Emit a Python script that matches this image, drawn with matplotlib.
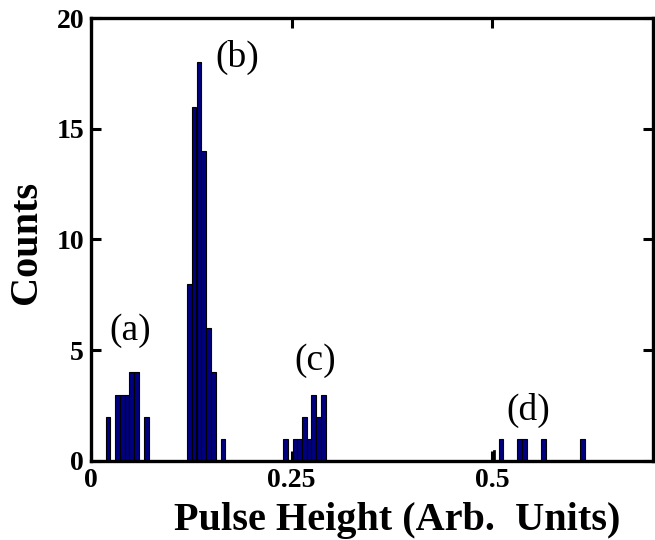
import matplotlib
matplotlib.use("Agg")
import matplotlib.pyplot as plt

# bin centers (Arb. units) and counts
centers_a = [0.0212, 0.0333, 0.0391, 0.0449, 0.0508, 0.0565, 0.0690]
counts_a = [2, 3, 3, 3, 4, 4, 2]
centers_b = [0.1224, 0.1283, 0.1345, 0.1406, 0.1464, 0.1525, 0.1643]
counts_b = [8, 16, 18, 14, 6, 4, 1]
centers_c = [0.2421, 0.2542, 0.2599, 0.2658, 0.2716, 0.2774, 0.2832, 0.2892]
counts_c = [1, 1, 1, 2, 1, 3, 2, 3]
centers_d = [0.5106, 0.5340, 0.5402, 0.5640, 0.6120]
counts_d = [1, 1, 1, 1, 1]
stub_center = [0.5016]
stub_count = [0.5]

peak_labels = ["(a)", "(b)", "(c)", "(d)"]
peak_label_pos = [(0.0486, 5.9), (0.182, 18.2), (0.279, 4.55), (0.544, 2.28)]

xticks = [0, 0.25, 0.5]
xtick_labels = ["0", "0.25", "0.5"]
yticks = [0, 5, 10, 15, 20]

plt.rcParams['font.family'] = ['Liberation Serif', 'DejaVu Serif']

fig = plt.figure(figsize=(6.55, 5.4), dpi=100)
ax = fig.add_axes([91/655, 1 - 461/540, (653 - 91)/655, (461 - 18)/540])

width = 0.006
face = '#000080'
for cs, ns in [(centers_a, counts_a), (centers_b, counts_b),
               (centers_c, counts_c), (centers_d, counts_d)]:
    ax.bar(cs, ns, width=width, color=face, edgecolor='black', linewidth=0.8)
ax.bar(stub_center, stub_count, width=0.0025, color='black', edgecolor='black', linewidth=0.5)

for lab, (x, y) in zip(peak_labels, peak_label_pos):
    ax.text(x, y, lab, fontsize=27, ha='center', va='center')

ax.set_xlim(0, 0.7)
ax.set_ylim(0, 20)
ax.set_xticks(xticks)
ax.set_xticklabels(xtick_labels)
ax.set_yticks(yticks)
ax.tick_params(direction='in', length=7, width=2.2, top=True, right=True,
               labelsize=20, pad=5)
for lbl in ax.get_xticklabels() + ax.get_yticklabels():
    lbl.set_fontweight('bold')
for sp in ax.spines.values():
    sp.set_linewidth(2.4)

ax.set_xlabel("Pulse Height (Arb.  Units)", fontsize=29, fontweight='bold', va='top')
ax.xaxis.set_label_coords(0.545, -0.092)
ax.set_ylabel("Counts", fontsize=29, fontweight='bold', va='center')
ax.yaxis.set_label_coords(-0.114, 0.494)

fig.savefig("out.png", dpi=100)
